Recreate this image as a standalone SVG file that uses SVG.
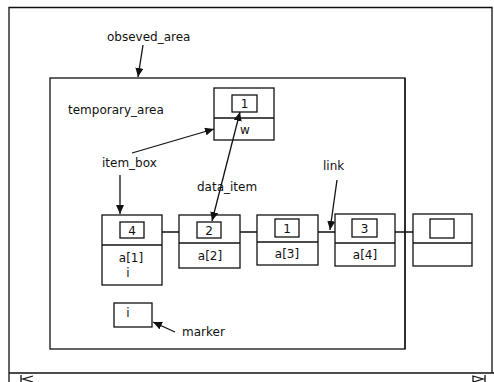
<svg xmlns="http://www.w3.org/2000/svg" width="494" height="382" viewBox="0 0 494 382">
<style>
  .box{fill:#fff;stroke:#111;stroke-width:1.3}
  .ln{fill:none;stroke:#111;stroke-width:1.3}
  .t{font-family:"DejaVu Sans",sans-serif;font-size:12px;fill:#111}
  .c{text-anchor:middle}
  .ar{fill:none;stroke:#111;stroke-width:1.3;marker-end:url(#ah)}
  .ar2{fill:none;stroke:#111;stroke-width:1.3;marker-end:url(#ah);marker-start:url(#as)}
</style>
<defs>
  <marker id="ah" markerUnits="userSpaceOnUse" markerWidth="10" markerHeight="8" refX="9" refY="4" orient="auto">
    <path d="M0,0 L9,4 L0,8 Z" fill="#111"/>
  </marker>
  <marker id="as" markerUnits="userSpaceOnUse" markerWidth="10" markerHeight="8" refX="9" refY="4" orient="auto-start-reverse">
    <path d="M0,0 L9,4 L0,8 Z" fill="#111"/>
  </marker>
</defs>
<rect width="494" height="382" fill="#fff"/>
<g id="window">
  <path class="ln" d="M9,382 V7.5 H492 V373"/>
  <path class="ln" d="M9,373 H494"/>
  <path class="ln" d="M21,375 V382 M33,376 L23,379 L33,382"/>
  <path class="ln" d="M485,375 V382 M473,376 L483,379 L473,382 Z"/>
</g>
<g id="temporary_area">
  <rect class="box" x="50" y="78" width="355" height="271"/>
  <text class="t" x="68" y="114">temporary_area</text>
</g>
<g id="label_obseved_area"><text class="t" x="107" y="41">obseved_area</text></g>
<g id="label_item_box"><text class="t" x="102" y="167">item_box</text></g>
<g id="label_data_item"><text class="t" x="197" y="191">data_item</text></g>
<g id="label_link"><text class="t" x="323" y="170">link</text></g>
<g id="label_marker"><text class="t" x="182" y="336">marker</text></g>
<g id="node_w">
  <rect class="box" x="214" y="88" width="60" height="52"/>
  <path class="ln" d="M214,118 H274"/>
  <rect class="box" x="232" y="95" width="25" height="17"/>
  <text class="t c" x="244.5" y="108">1</text>
  <text class="t" x="240" y="134">w</text>
</g>
<g id="node_a1">
  <rect class="box" x="102" y="215" width="60" height="70"/>
  <path class="ln" d="M102,245 H162"/>
  <rect class="box" x="120" y="222" width="24" height="16"/>
  <text class="t c" x="132" y="235">4</text>
  <text class="t c" x="131" y="262">a[1]</text>
  <text class="t c" x="128" y="277">i</text>
</g>
<g id="node_a2">
  <rect class="box" x="179" y="215" width="61" height="53"/>
  <path class="ln" d="M179,243 H240"/>
  <rect class="box" x="197" y="222" width="24" height="16"/>
  <text class="t c" x="209" y="235">2</text>
  <text class="t c" x="210" y="260">a[2]</text>
</g>
<g id="node_a3">
  <rect class="box" x="257" y="215" width="61" height="50"/>
  <path class="ln" d="M257,242 H318"/>
  <rect class="box" x="275" y="219" width="24" height="18"/>
  <text class="t c" x="287" y="233">1</text>
  <text class="t c" x="287" y="258">a[3]</text>
</g>
<g id="node_a4">
  <rect class="box" x="335" y="214" width="60" height="52"/>
  <path class="ln" d="M335,243 H395"/>
  <rect class="box" x="352" y="219" width="25" height="18"/>
  <text class="t c" x="364.5" y="233">3</text>
  <text class="t c" x="365" y="259">a[4]</text>
</g>
<g id="node_empty">
  <rect class="box" x="413" y="214" width="59" height="52"/>
  <path class="ln" d="M413,243 H472"/>
  <rect class="box" x="430" y="219" width="24" height="19"/>
</g>
<g id="node_marker">
  <rect class="box" x="114" y="303" width="38" height="24"/>
  <text class="t c" x="128" y="317">i</text>
</g>
<g id="connectors">
  <path class="ln" d="M405,78 V349"/>
  <path class="ln" d="M162,232 H179 M240,232 H257 M318,232 H335 M395,232 H413"/>
  <path class="ar" d="M143,45 L138,77"/>
  <path class="ar" d="M132,153 L214,129"/>
  <path class="ar" d="M120,175 L120,214"/>
  <path class="ar2" d="M212,221 L240,112"/>
  <path class="ar" d="M337,180 L330,230"/>
  <path class="ar" d="M175,332 L153,322"/>
</g>
</svg>
